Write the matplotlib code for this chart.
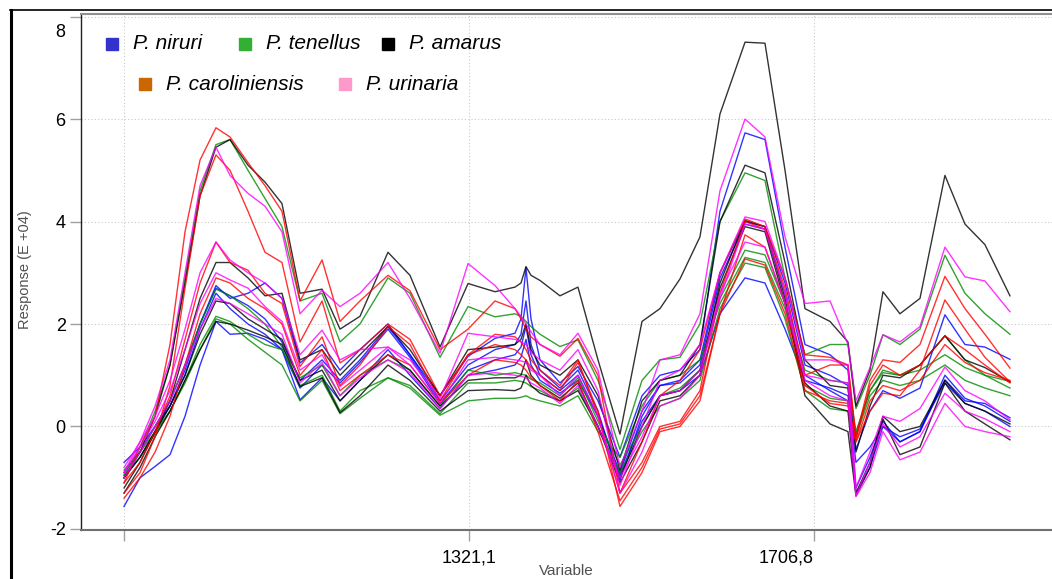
import matplotlib
matplotlib.use("Agg")
import matplotlib.pyplot as plt
import matplotlib.transforms as mtransforms
from matplotlib.lines import Line2D
import numpy as np

plt.rcParams['font.family'] = ['Liberation Sans', 'DejaVu Sans']

# variable axis (wavenumber-like) sample positions
variable = [935.4, 953.3, 970.1, 986.8, 1003.6, 1020.4, 1038.2, 1053.9, 1074.0, 1093.0,
            1112.0, 1132.2, 1156.8, 1176.9, 1199.2, 1230.5, 1255.1, 1288.7, 1320.0, 1350.2,
            1372.5, 1379.2, 1384.8, 1390.4, 1400.5, 1422.8, 1442.9, 1465.3, 1489.9, 1514.5,
            1534.6, 1557.0, 1579.3, 1601.7, 1629.7, 1652.0, 1674.4, 1696.7, 1724.7, 1744.8,
            1753.7, 1769.4, 1783.9, 1802.9, 1825.3, 1853.2, 1875.6, 1897.9, 1925.9]

# responses (E+04), four extracts per species
niruri = [
    [-0.7, -0.4, 0.0, 0.5, 1.2, 2.0, 2.75, 2.5, 2.6, 2.8, 2.5, 1.24, 1.6, 1.1, 1.5, 2.0, 1.4, 0.6, 1.37, 1.72, 1.82, 2.1, 3.1, 2.1, 1.3, 0.85, 1.17, 0.5, -0.6, 0.6, 1.0, 1.1, 1.5, 4.2, 5.73, 5.6, 3.5, 1.6, 1.4, 1.1, -0.45, 0.3, 0.7, 0.55, 0.75, 2.18, 1.6, 1.55, 1.31],
    [-1.0, -0.6, -0.1, 0.4, 1.1, 2.0, 2.7, 2.55, 2.36, 2.1, 1.65, 0.9, 1.3, 0.9, 1.3, 1.95, 1.4, 0.5, 1.2, 1.5, 1.6, 1.8, 2.45, 1.6, 1.1, 0.75, 1.1, 0.3, -1.05, 0.2, 0.8, 0.9, 1.3, 3.0, 4.0, 3.9, 2.8, 1.2, 1.0, 0.8, -1.2, -0.6, 0.1, -0.3, -0.1, 0.91, 0.5, 0.45, 0.17],
    [-1.56, -1.0, -0.78, -0.55, 0.2, 1.2, 2.05, 1.8, 1.82, 1.7, 1.5, 0.52, 0.95, 0.5, 0.9, 1.5, 1.0, 0.35, 1.0, 1.1, 1.2, 1.35, 1.7, 1.2, 0.9, 0.65, 0.9, 0.2, -0.95, 0.1, 0.6, 0.7, 1.0, 2.2, 2.9, 2.8, 1.9, 0.9, 0.75, 0.6, -0.7, -0.4, 0.0, -0.2, -0.05, 0.85, 0.45, 0.3, 0.0],
    [-0.9, -0.5, 0.0, 0.4, 1.0, 1.9, 2.6, 2.3, 2.0, 1.8, 1.5, 0.75, 1.2, 0.85, 1.25, 1.9, 1.35, 0.45, 1.1, 1.3, 1.4, 1.55, 1.95, 1.4, 1.0, 0.7, 1.0, 0.2, -0.9, 0.3, 0.8, 0.85, 1.2, 2.9, 3.95, 3.85, 2.6, 1.0, 0.7, 0.5, -1.3, -0.8, 0.0, -0.3, -0.1, 1.0, 0.55, 0.4, 0.1],
]
tenellus = [
    [-0.95, -0.4, 0.3, 1.2, 2.9, 4.6, 5.5, 5.6, 5.0, 4.45, 3.9, 2.45, 2.6, 1.65, 2.0, 2.9, 2.6, 1.35, 2.34, 2.14, 2.2, 2.15, 2.05, 1.95, 1.8, 1.56, 1.69, 0.9, -0.45, 0.9, 1.3, 1.35, 2.0, 4.0, 4.95, 4.8, 2.9, 1.4, 1.6, 1.6, 0.35, 1.0, 1.79, 1.6, 1.9, 3.34, 2.6, 2.2, 1.8],
    [-1.0, -0.5, 0.0, 0.5, 1.2, 2.0, 2.68, 2.55, 2.3, 2.0, 1.55, 0.95, 1.2, 0.6, 1.0, 1.3, 1.1, 0.4, 1.1, 1.0, 1.05, 1.02, 1.0, 0.92, 0.85, 0.6, 0.95, 0.1, -0.75, 0.0, 0.6, 0.75, 1.1, 2.5, 3.44, 3.35, 2.4, 1.1, 0.9, 0.85, -0.1, 0.7, 1.1, 1.0, 1.2, 1.77, 1.3, 1.0, 0.75],
    [-0.85, -0.5, -0.1, 0.3, 0.9, 1.6, 2.15, 2.05, 1.8, 1.6, 1.5, 0.8, 1.0, 0.3, 0.7, 0.95, 0.8, 0.25, 0.85, 0.85, 0.9, 0.88, 0.85, 0.78, 0.7, 0.5, 0.75, 0.0, -0.9, -0.1, 0.4, 0.55, 0.9, 2.3, 3.19, 3.1, 2.1, 0.7, 0.35, 0.3, -0.15, 0.7, 1.05, 1.0, 1.1, 1.4, 1.15, 1.0, 0.88],
    [-0.95, -0.6, -0.15, 0.3, 0.85, 1.5, 2.1, 2.0, 1.7, 1.45, 1.2, 0.5, 0.9, 0.25, 0.55, 0.95, 0.75, 0.22, 0.5, 0.55, 0.55, 0.57, 0.6, 0.55, 0.5, 0.4, 0.6, -0.1, -0.6, 0.4, 0.9, 1.0, 1.3, 2.4, 3.3, 3.2, 2.3, 0.8, 0.55, 0.5, -0.2, 0.6, 0.9, 0.8, 0.9, 1.2, 0.9, 0.75, 0.6],
]
amarus = [
    [-1.0, -0.5, 0.2, 1.2, 2.8, 4.5, 5.45, 5.6, 5.1, 4.77, 4.35, 2.6, 2.68, 1.9, 2.15, 3.4, 2.95, 1.55, 2.79, 2.63, 2.72, 2.8, 3.12, 2.95, 2.85, 2.55, 2.72, 1.3, -0.15, 2.05, 2.3, 2.88, 3.7, 6.1, 7.5, 7.48, 5.0, 2.3, 2.05, 1.65, 0.4, 1.1, 2.63, 2.2, 2.5, 4.9, 3.95, 3.55, 2.55],
    [-1.0, -0.6, -0.1, 0.5, 1.5, 2.5, 3.2, 3.2, 2.9, 2.55, 2.6, 1.3, 1.5, 1.0, 1.4, 1.95, 1.5, 0.6, 1.5, 1.55, 1.6, 1.7, 2.0, 1.5, 1.2, 1.0, 1.3, 0.6, -0.85, 0.5, 0.9, 1.0, 1.6, 4.0, 5.1, 4.95, 3.2, 1.3, 0.8, 0.75, -0.5, 0.4, 1.0, 0.95, 1.2, 1.77, 1.3, 1.15, 0.87],
    [-1.3, -0.8, -0.2, 0.3, 0.9, 1.5, 2.05, 2.0, 1.88, 1.75, 1.6, 0.78, 0.95, 0.27, 0.6, 1.2, 0.9, 0.3, 0.7, 0.72, 0.7, 0.75, 1.0, 0.8, 0.65, 0.5, 0.7, 0.0, -1.1, -0.3, 0.5, 0.6, 1.0, 2.8, 4.02, 3.9, 2.5, 0.6, 0.05, -0.1, -1.35, -0.8, 0.15, -0.55, -0.4, 0.85, 0.3, 0.05, -0.26],
    [-1.2, -0.7, -0.1, 0.4, 1.0, 1.8, 2.45, 2.4, 2.1, 1.9, 1.7, 0.9, 1.1, 0.5, 0.9, 1.4, 1.1, 0.4, 0.9, 0.95, 0.95, 1.0, 1.3, 1.0, 0.8, 0.55, 0.85, 0.0, -1.0, 0.0, 0.6, 0.7, 1.1, 2.7, 3.9, 3.8, 2.4, 0.85, 0.4, 0.3, -1.3, -0.7, 0.2, -0.1, 0.0, 0.9, 0.45, 0.3, 0.05],
]
caroliniensis = [
    [-1.1, -0.4, 0.2, 1.6, 3.8, 5.2, 5.83, 5.65, 5.15, 4.7, 4.2, 2.45, 3.25, 2.05, 2.45, 2.95, 2.65, 1.5, 1.9, 2.45, 2.3, 2.1, 1.9, 1.75, 1.6, 1.37, 1.72, 1.0, -1.3, -0.3, 0.6, 0.9, 1.5, 3.0, 4.05, 3.9, 2.9, 1.4, 1.35, 1.2, -0.2, 0.9, 1.3, 1.25, 1.6, 2.93, 2.3, 1.8, 1.14],
    [-1.3, -0.9, -0.2, 0.8, 2.7, 4.5, 5.3, 5.0, 4.2, 3.4, 3.2, 1.65, 2.45, 1.24, 1.5, 2.0, 1.7, 0.6, 1.4, 1.6, 1.5, 1.4, 1.3, 1.15, 1.0, 0.7, 1.25, 0.3, -1.56, -0.9, -0.1, 0.0, 0.5, 2.2, 3.74, 3.5, 2.4, 0.8, 0.45, 0.4, -0.3, 0.3, 0.65, 0.6, 1.1, 2.47, 1.9, 1.35, 0.87],
    [-1.1, -0.7, -0.1, 0.6, 1.7, 2.8, 3.6, 3.2, 3.05, 2.6, 2.4, 1.17, 1.75, 0.8, 1.2, 1.95, 1.6, 0.5, 1.4, 1.8, 1.75, 1.65, 1.5, 1.3, 1.1, 0.8, 1.3, 0.2, -1.3, -0.7, 0.0, 0.1, 0.7, 2.6, 4.0, 3.85, 2.7, 1.0, 1.2, 1.2, -0.25, 0.8, 1.2, 1.0, 1.2, 1.77, 1.5, 1.2, 0.85],
    [-1.4, -1.0, -0.5, 0.2, 1.2, 2.2, 2.9, 2.8, 2.5, 2.3, 2.0, 1.0, 1.5, 0.7, 1.0, 1.4, 1.2, 0.45, 1.0, 1.3, 1.25, 1.2, 1.1, 0.95, 0.8, 0.5, 0.9, -0.1, -1.45, -0.8, -0.05, 0.05, 0.6, 2.2, 3.27, 3.15, 2.2, 0.7, 0.5, 0.45, -0.3, 0.5, 0.8, 0.7, 0.9, 1.6, 1.25, 1.05, 0.9],
]
urinaria = [
    [-0.9, -0.3, 0.4, 1.3, 3.0, 4.7, 5.45, 4.9, 4.55, 4.3, 3.8, 2.2, 2.66, 2.34, 2.6, 3.2, 2.5, 1.43, 3.18, 2.75, 2.3, 2.15, 2.0, 1.85, 1.6, 1.4, 1.82, 1.1, -0.8, 0.3, 1.3, 1.4, 2.2, 4.6, 6.0, 5.65, 3.7, 2.4, 2.45, 1.6, 0.5, 1.15, 1.79, 1.65, 1.95, 3.5, 2.92, 2.84, 2.24],
    [-0.8, -0.3, 0.2, 0.9, 1.9, 3.0, 3.6, 3.25, 3.0, 2.8, 2.5, 1.4, 1.88, 1.3, 1.5, 1.55, 1.3, 0.55, 1.82, 1.75, 1.7, 1.65, 1.6, 1.45, 1.3, 1.1, 1.5, 0.7, -1.15, 0.0, 0.9, 1.1, 1.6, 3.0, 4.09, 4.0, 2.9, 1.3, 1.3, 1.2, -1.2, -0.5, 0.2, 0.1, 0.35, 1.16, 0.7, 0.5, 0.13],
    [-0.9, -0.4, 0.1, 0.7, 1.5, 2.4, 3.0, 2.86, 2.7, 2.34, 2.05, 1.1, 1.4, 0.78, 1.1, 1.55, 1.2, 0.45, 1.3, 1.35, 1.3, 1.28, 1.25, 1.1, 1.0, 0.6, 1.0, 0.2, -1.3, -0.5, 0.4, 0.55, 1.0, 2.5, 3.95, 3.85, 2.6, 0.9, 0.6, 0.5, -1.35, -0.7, 0.05, -0.4, -0.2, 0.65, 0.3, 0.15, -0.1],
    [-1.0, -0.5, 0.0, 0.5, 1.2, 1.9, 2.5, 2.4, 2.2, 2.0, 1.8, 0.85, 1.25, 0.6, 0.95, 1.3, 1.05, 0.35, 1.0, 1.05, 1.0, 0.98, 0.95, 0.85, 0.75, 0.45, 0.8, 0.0, -1.0, -0.2, 0.6, 0.7, 1.1, 2.6, 3.6, 3.5, 2.4, 1.0, 0.9, 0.85, -1.37, -0.9, -0.1, -0.65, -0.5, 0.45, 0.0, -0.1, -0.2],
]

species = ['P. niruri', 'P. tenellus', 'P. amarus', 'P. caroliniensis', 'P. urinaria']
line_colors = ['#0000ff', '#008a00', '#000000', '#ff0000', '#ff00ff']
legend_colors = ['#3333cc', '#33b033', '#000000', '#cc6600', '#ff99cc']

x_ticks = [935.4, 1321.1, 1706.8]
x_ticklabels = ['', '1321,1', '1706,8']
y_ticks = [-2, 0, 2, 4, 6, 8]

fig = plt.figure(figsize=(10.52, 5.79), dpi=100)
ax = fig.add_axes([81 / 1052, 49 / 579, 971 / 1052, 516 / 579])

for group, col in zip([niruri, tenellus, amarus, caroliniensis, urinaria], line_colors):
    for spec in group:
        assert len(spec) == len(variable)
        ax.plot(variable, spec, color=col, lw=1.0, alpha=0.8)

ax.set_xlim(887.3, 1972.9)
ax.set_ylim(-2.02, 8.05)
ax.set_xticks(x_ticks)
ax.set_xticklabels(x_ticklabels)
ax.set_yticks(y_ticks)
ax.set_yticklabels([str(v) for v in y_ticks])
ax.tick_params(axis='both', colors='#a0a0a0', length=8, width=1, labelsize=13,
               labelcolor='black')
ax.tick_params(axis='y', pad=3)
ax.tick_params(axis='x', pad=6)
ax.grid(True, color='#c8c8c8', linestyle=(0, (1, 2)), linewidth=0.8)
ax.set_axisbelow(True)

ax.spines['right'].set_visible(False)
ax.spines['left'].set_color('#202020')
ax.spines['left'].set_linewidth(1.0)
ax.spines['bottom'].set_color('#707070')
ax.spines['bottom'].set_linewidth(1.5)
ax.spines['top'].set_color('#909090')
ax.spines['top'].set_linewidth(1.5)

# last x label sits to the left of its tick, top y label pushed down
xl = ax.get_xticklabels()
xl[2].set_horizontalalignment('right')
yl = ax.get_yticklabels()
yl[-1].set_transform(yl[-1].get_transform() +
                     mtransforms.ScaledTranslation(0, -10 / 72, fig.dpi_scale_trans))

ax.set_xlabel('Variable', fontsize=11, color='#505050', va='center')
ax.set_ylabel('Response (E +04)', fontsize=10.5, color='#505050', va='center', ha='center')
ax.xaxis.set_label_coords(0.5, -0.08)
ax.yaxis.set_label_coords(-0.058, 0.504)

# legend entries: square key + italic name, two rows
key_pos = [(0.032, 0.942), (0.169, 0.942), (0.316, 0.942), (0.066, 0.864), (0.272, 0.864)]
for name, col, (kx, ky) in zip(species, legend_colors, key_pos):
    ax.plot([kx], [ky], marker='s', markersize=8, color=col, linestyle='none',
            transform=ax.transAxes, clip_on=False)
    ax.text(kx + 0.0215, ky, name, transform=ax.transAxes, fontsize=15, style='italic',
            va='center', ha='left', color='black')

# outer panel frame
fig.add_artist(Line2D([10.5 / 1052, 10.5 / 1052], [0, 1 - 10 / 579],
                      transform=fig.transFigure, color='black', lw=2.2))
fig.add_artist(Line2D([10 / 1052, 1], [1 - 10 / 579, 1 - 10 / 579],
                      transform=fig.transFigure, color='black', lw=1.2))

fig.savefig('out.png', dpi=100)
